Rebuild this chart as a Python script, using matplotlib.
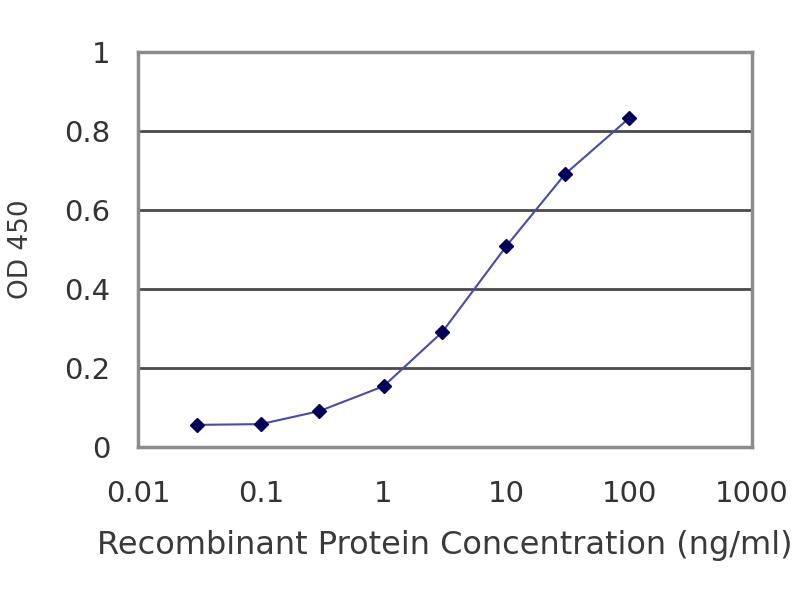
import matplotlib
matplotlib.use("Agg")
import matplotlib.pyplot as plt

# Concentrations (ng/ml) and OD 450 readings
concentration = [0.03, 0.1, 0.3, 1, 3, 10, 30, 100]
od450 = [0.056, 0.058, 0.091, 0.154, 0.291, 0.509, 0.691, 0.833]

x_ticks = [0.01, 0.1, 1, 10, 100, 1000]
x_tick_labels = ["0.01", "0.1", "1", "10", "100", "1000"]
y_ticks = [0, 0.2, 0.4, 0.6, 0.8, 1]
y_tick_labels = ["0", "0.2", "0.4", "0.6", "0.8", "1"]

plt.rcParams['font.family'] = ['DejaVu Sans']

fig = plt.figure(figsize=(8, 6), dpi=100)
ax = fig.add_axes([0.1725, 0.255, 0.7675, 0.658])

ax.plot(concentration, od450, color='#4a4aa8', linewidth=1.5,
        marker='D', markersize=7, markerfacecolor='#00005a', markeredgecolor='#00005a')

ax.set_xscale('log')
ax.set_xlim(0.01, 1000)
ax.set_ylim(0, 1)
ax.set_xticks(x_ticks)
ax.set_xticklabels(x_tick_labels)
ax.set_yticks(y_ticks)
ax.set_yticklabels(y_tick_labels)
ax.minorticks_off()

for y in y_ticks[1:-1]:
    ax.axhline(y, color='#4a4a4a', linewidth=2, zorder=0)

for side in ['left', 'bottom', 'right', 'top']:
    ax.spines[side].set_color('#8c8c8c')
    ax.spines[side].set_linewidth(2.5)

ax.tick_params(axis='both', length=0, labelsize=21, colors='#333333')
ax.tick_params(axis='y', pad=20)
ax.tick_params(axis='x', pad=24)

ax.set_xlabel("Recombinant Protein Concentration (ng/ml)", fontsize=23, color='#3a3a3a')
ax.set_ylabel("OD 450", fontsize=19, color='#3a3a3a')
ax.xaxis.set_label_coords(0.5, -0.21)
ax.yaxis.set_label_coords(-0.17, 0.5)

fig.savefig("out.png", dpi=100)
